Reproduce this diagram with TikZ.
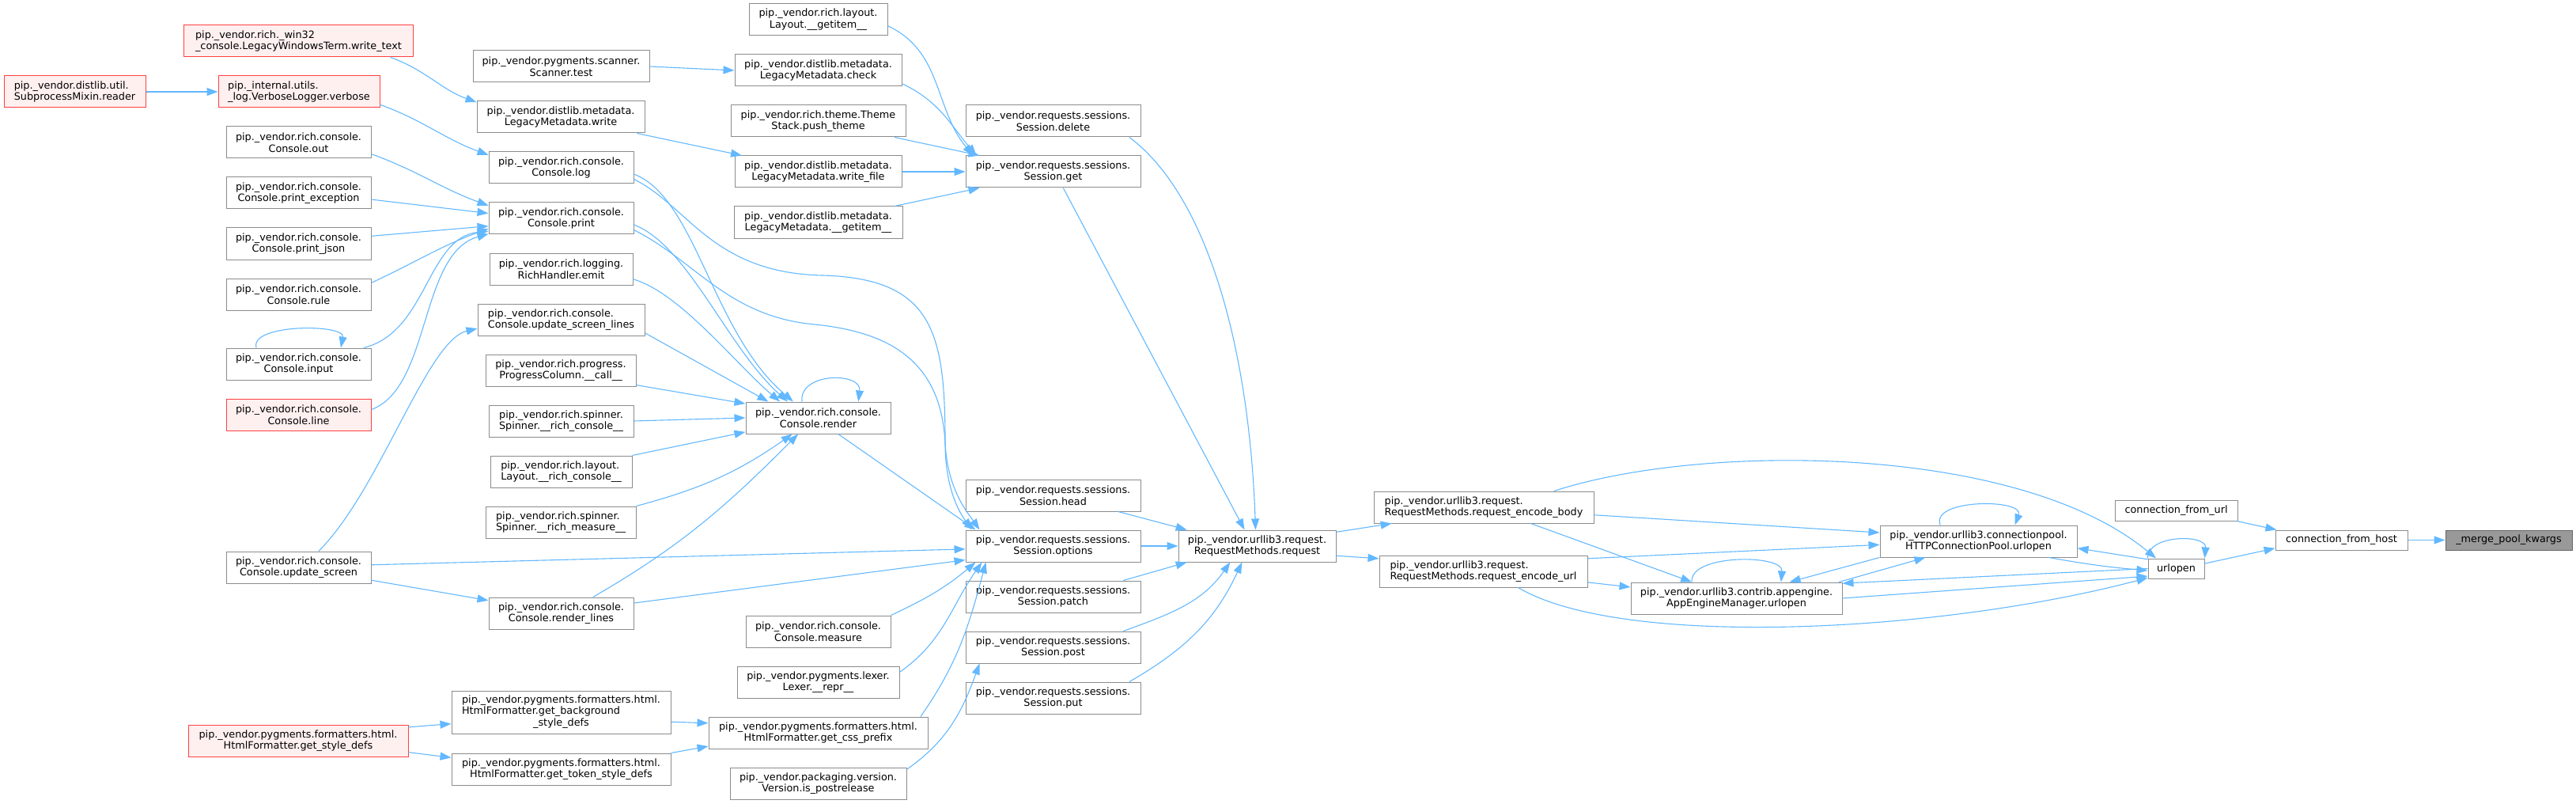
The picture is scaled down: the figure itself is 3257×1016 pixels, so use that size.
\documentclass[tikz,border=0pt]{standalone}
\usepackage{fontspec}
\usepackage{tikz}
\usetikzlibrary{arrows.meta}
\newfontfamily\dvsans{DejaVu Sans}
\newcommand\boxfont{\dvsans\fontsize{12.8pt}{14.7pt}\selectfont}
\definecolor{edgeblue}{HTML}{63B8FF}
\definecolor{boxline}{HTML}{8C8C8C}
\definecolor{redline}{HTML}{FF4040}
\definecolor{redfill}{HTML}{FFF0F0}
\definecolor{focusfill}{HTML}{999999}
\definecolor{focusline}{HTML}{666666}
\begin{document}
\begin{tikzpicture}[x=1pt,y=-1pt,
	box/.style={rectangle, draw=boxline, fill=white, line width=1pt, minimum height=40pt, inner sep=0pt, font=\boxfont, align=center},
	redbox/.style={box, draw=redline, fill=redfill},
	focusbox/.style={box, draw=focusline, fill=focusfill},
	lft/.style={align=left},
	edge/.style={draw=edgeblue, line width=1.1pt, -{Triangle[length=14pt,width=10pt]}}]
	\useasboundingbox (0,0) rectangle (3257,1016);
	\node[redbox, lft, minimum width=179pt] (reader) at (94.5,116) {pip.\_vendor.distlib.util.\\SubprocessMixin.reader};
	\node[redbox, lft, minimum width=290pt] (wtext) at (377.5,52) {pip.\_vendor.rich.\_win32\\\_console.LegacyWindowsTerm.write\_text};
	\node[redbox, lft, minimum width=204pt] (verbose) at (378,116) {pip.\_internal.utils.\\\_log.VerboseLogger.verbose};
	\node[box, minimum width=183pt] (cout) at (377.5,180) {pip.\_vendor.rich.console.\\Console.out};
	\node[box, minimum width=183pt] (cpexc) at (377.5,244) {pip.\_vendor.rich.console.\\Console.print\_exception};
	\node[box, minimum width=183pt] (cpjson) at (377.5,308) {pip.\_vendor.rich.console.\\Console.print\_json};
	\node[box, minimum width=183pt] (crule) at (377.5,372) {pip.\_vendor.rich.console.\\Console.rule};
	\node[box, minimum width=183pt] (cinput) at (377.5,460) {pip.\_vendor.rich.console.\\Console.input};
	\node[redbox, minimum width=183pt] (cline) at (377.5,524) {pip.\_vendor.rich.console.\\Console.line};
	\node[box, minimum width=183pt] (cupd) at (377.5,717) {pip.\_vendor.rich.console.\\Console.update\_screen};
	\node[redbox, minimum width=278pt] (hstyle) at (377,936) {pip.\_vendor.pygments.formatters.html.\\HtmlFormatter.get\_style\_defs};

	\node[box, minimum width=223pt] (scantest) at (709.5,84) {pip.\_vendor.pygments.scanner.\\Scanner.test};
	\node[box, minimum width=212pt] (lmwrite) at (709,148) {pip.\_vendor.distlib.metadata.\\LegacyMetadata.write};
	\node[box, minimum width=183pt] (clog) at (709.5,212) {pip.\_vendor.rich.console.\\Console.log};
	\node[box, minimum width=183pt] (cprint) at (709.5,276) {pip.\_vendor.rich.console.\\Console.print};
	\node[box, minimum width=181pt] (remit) at (709.5,340) {pip.\_vendor.rich.logging.\\RichHandler.emit};
	\node[box, lft, minimum width=211pt] (cusl) at (709.5,404) {pip.\_vendor.rich.console.\\Console.update\_screen\_lines};
	\node[box, minimum width=190pt] (pcall) at (709,468) {pip.\_vendor.rich.progress.\\ProgressColumn.\_\_call\_\_};
	\node[box, minimum width=183pt] (spcon) at (709.5,532) {pip.\_vendor.rich.spinner.\\Spinner.\_\_rich\_console\_\_};
	\node[box, lft, minimum width=179pt] (lycon) at (709.5,596) {pip.\_vendor.rich.layout.\\Layout.\_\_rich\_console\_\_};
	\node[box, lft, minimum width=190pt] (spmeas) at (709,660) {pip.\_vendor.rich.spinner.\\Spinner.\_\_rich\_measure\_\_};
	\node[box, minimum width=183pt] (crlines) at (709.5,775) {pip.\_vendor.rich.console.\\Console.render\_lines};
	\node[box, minimum width=277pt, minimum height=54pt] (hbg) at (709.5,900) {\begin{tabular}{@{}l@{}}pip.\_vendor.pygments.formatters.html.\\HtmlFormatter.get\_background\\\multicolumn{1}{@{}c@{}}{\_style\_defs}\end{tabular}};
	\node[box, minimum width=277pt] (htok) at (709.5,972) {pip.\_vendor.pygments.formatters.html.\\HtmlFormatter.get\_token\_style\_defs};

	\node[box, minimum width=175pt] (lyget) at (1034.5,25) {pip.\_vendor.rich.layout.\\Layout.\_\_getitem\_\_};
	\node[box, minimum width=211pt] (lmcheck) at (1034.5,89) {pip.\_vendor.distlib.metadata.\\LegacyMetadata.check};
	\node[box, minimum width=221pt] (theme) at (1034.5,153) {pip.\_vendor.rich.theme.Theme\\Stack.push\_theme};
	\node[box, minimum width=211pt] (lmwfile) at (1034.5,217) {pip.\_vendor.distlib.metadata.\\LegacyMetadata.write\_file};
	\node[box, minimum width=213pt] (lmget) at (1034.5,281) {pip.\_vendor.distlib.metadata.\\LegacyMetadata.\_\_getitem\_\_};
	\node[box, minimum width=183pt] (crender) at (1034.5,528) {pip.\_vendor.rich.console.\\Console.render};
	\node[box, minimum width=183pt] (cmeas) at (1034.5,798) {pip.\_vendor.rich.console.\\Console.measure};
	\node[box, minimum width=205pt] (lexrepr) at (1034.5,862) {pip.\_vendor.pygments.lexer.\\Lexer.\_\_repr\_\_};
	\node[box, minimum width=277pt] (hcss) at (1034.5,926) {pip.\_vendor.pygments.formatters.html.\\HtmlFormatter.get\_css\_prefix};
	\node[box, minimum width=223pt] (postrel) at (1034.5,990) {pip.\_vendor.packaging.version.\\Version.is\_postrelease};

	\node[box, minimum width=221pt] (sdelete) at (1331.5,153) {pip.\_vendor.requests.sessions.\\Session.delete};
	\node[box, minimum width=221pt] (sget) at (1331.5,217) {pip.\_vendor.requests.sessions.\\Session.get};
	\node[box, minimum width=221pt] (shead) at (1331.5,626) {pip.\_vendor.requests.sessions.\\Session.head};
	\node[box, minimum width=221pt] (soptions) at (1331.5,690) {pip.\_vendor.requests.sessions.\\Session.options};
	\node[box, minimum width=221pt] (spatch) at (1331.5,754) {pip.\_vendor.requests.sessions.\\Session.patch};
	\node[box, minimum width=221pt] (spost) at (1331.5,818) {pip.\_vendor.requests.sessions.\\Session.post};
	\node[box, minimum width=221pt] (sput) at (1331.5,882) {pip.\_vendor.requests.sessions.\\Session.put};

	\node[box, minimum width=199pt] (reqm) at (1589.5,690) {pip.\_vendor.urllib3.request.\\RequestMethods.request};
	\node[box, lft, minimum width=278pt] (reqbody) at (1876,641) {pip.\_vendor.urllib3.request.\\RequestMethods.request\_encode\_body};
	\node[box, lft, minimum width=263pt] (requrl) at (1875.5,722) {pip.\_vendor.urllib3.request.\\RequestMethods.request\_encode\_url};
	\node[box, minimum width=267pt] (appeng) at (2195.5,756) {pip.\_vendor.urllib3.contrib.appengine.\\AppEngineManager.urlopen};
	\node[box, minimum width=249pt] (hcpool) at (2501.5,684) {pip.\_vendor.urllib3.connectionpool.\\HTTPConnectionPool.urlopen};
	\node[box, minimum width=71pt, minimum height=25pt] (urlopen) at (2751.5,718.5) {urlopen};
	\node[box, minimum width=155pt, minimum height=26pt] (cfurl) at (2751.5,645) {connection\_from\_url};
	\node[box, minimum width=167pt, minimum height=25pt] (cfhost) at (2960.5,682.5) {connection\_from\_host};
	\node[focusbox, minimum width=160pt, minimum height=25pt] (merge) at (3172,682.5) {\_merge\_pool\_kwargs};

	\draw[edge] (reader.east) -- (verbose.west);
	\draw[edge] (wtext.-10) to[out=-20,in=160] (lmwrite.170);
	\draw[edge] (verbose.-9) to[out=-20,in=160] (clog.170);
	\draw[edge] (scantest.east) -- (lmcheck.west);
	\draw[edge] (lmwrite.-12) -- (lmwfile.168);
	\draw[edge] (cout.-9) to[out=-20,in=160] (cprint.170);
	\draw[edge] (cpexc.-5) -- (cprint.176);
	\draw[edge] (cpjson.6) -- (cprint.-174);
	\draw[edge] (crule.9) to[out=25,in=200] (cprint.-172);
	\draw[edge] (cinput.14) .. controls (540,420) and (540,300) .. (cprint.-170);
	\draw[edge] (cinput.159.5) .. controls (315,409) and (437,409) .. (cinput.21.6);
	\draw[edge] (cline.4) .. controls (545,490) and (530,320) .. (cprint.-168);
	\draw[edge] (cupd.39) .. controls (480,620) and (540,430) .. (cusl.-174);
	\draw[edge] (cupd.-10) -- (crlines.170);
	\draw[edge] (cupd.2) -- (soptions.-178);

	\draw[edge] (clog.-5) .. controls (880,250) and (900,420) .. (crender.147);
	\draw[edge] (cprint.-5) .. controls (870,310) and (920,440) .. (crender.152);
	\draw[edge] (remit.-8) .. controls (860,370) and (930,460) .. (crender.157);
	\draw[edge] (cusl.-9) -- (crender.162);
	\draw[edge] (crender.135) .. controls (1010,470) and (1090,470) .. (crender.22);
	\draw[edge] (pcall.-11) -- (crender.169);
	\draw[edge] (spcon.east) -- (crender.west);
	\draw[edge] (lycon.north east) -- (crender.-169);
	\draw[edge] (spmeas.north east) to[out=15,in=-145] (crender.-148);
	\draw[edge] (crlines.27) to[out=30,in=-135] (crender.-141);
	\draw[edge] (crlines.8) -- (soptions.-171);

	\draw[edge] (clog.-9) .. controls (870,260) and (900,345) .. (1040,348) .. controls (1180,352) and (1195,420) .. (1195,560) .. controls (1195,620) and (1215,650) .. ([xshift=8pt]soptions.north west);
	\draw[edge] (cprint.-9) .. controls (880,330) and (920,400) .. (1030,410) .. controls (1130,420) and (1190,460) .. (1195,560) .. controls (1198,620) and (1225,650) .. ([xshift=18pt]soptions.north west);
	\draw[edge] (crender.-39) -- ([xshift=13pt]soptions.north west);
	\draw[edge] (cmeas.north east) to[out=25,in=-140] ([xshift=13pt]soptions.south west);
	\draw[edge] (lexrepr.7) to[out=35,in=-125] ([xshift=21pt]soptions.south west);
	\draw[edge] (hcss.9) to[out=55,in=-105] ([xshift=26pt]soptions.south west);
	\draw[edge] (postrel.9) to[out=35,in=-110] ([xshift=18pt]spost.south west);
	\draw[edge] (hstyle.7) -- (hbg.-174);
	\draw[edge] (hstyle.-6) -- (htok.174);
	\draw[edge] (hbg.-5) -- (hcss.175);
	\draw[edge] (htok.north east) -- (hcss.-173);

	\draw[edge] (lyget.-5) to[out=-25,in=130] ([xshift=10pt]sget.north west);
	\draw[edge] (lmcheck.-9) to[out=-25,in=130] ([xshift=14pt]sget.north west);
	\draw[edge] (theme.-12) -- ([xshift=18pt]sget.north west);
	\draw[edge] (lmwfile.east) -- (sget.west);
	\draw[edge] (lmget.12) -- ([xshift=18pt]sget.south west);

	\draw[edge] (sdelete.-12) .. controls (1530,250) and (1580,450) .. ([xshift=-2pt]reqm.north);
	\draw[edge] (sget.-58) -- (reqm.128);
	\draw[edge] (shead.-14) -- (reqm.167);
	\draw[edge] (soptions.east) -- (reqm.west);
	\draw[edge] (spatch.13.5) -- (reqm.-167);
	\draw[edge] (spost.13.5) to[out=20,in=-125] (reqm.-149);
	\draw[edge] (sput.12.7) to[out=30,in=-115] (reqm.-133);

	\draw[edge] (reqm.10) -- (reqbody.-170);
	\draw[edge] (reqm.-7) -- (requrl.173);
	\draw[edge] (reqbody.-4) -- (hcpool.175);
	\draw[edge] (reqbody.-19) -- (appeng.160);
	\draw[edge] (reqbody.13) .. controls (2150,560) and (2550,560) .. (urlopen.153);
	\draw[edge] (requrl.7) -- (hcpool.-178);
	\draw[edge] (requrl.-6) -- (appeng.174);
	\draw[edge] (requrl.-25) .. controls (2050,820) and (2450,800) .. (urlopen.-162);
	\draw[edge] (appeng.160.5) .. controls (2135,700) and (2255,700) .. (appeng.20.5);
	\draw[edge] (hcpool.south west) -- (appeng.17.5);
	\draw[edge] (appeng.9) -- (hcpool.-163);
	\draw[edge] (urlopen.west) -- (appeng.8);
	\draw[edge] (appeng.east) -- (urlopen.-165);
	\draw[edge] (hcpool.-13) to[out=-10,in=175] (urlopen.-176);
	\draw[edge] (urlopen.162) -- (hcpool.-4);
	\draw[edge] (hcpool.157) .. controls (2440,630) and (2560,630) .. (hcpool.24);
	\draw[edge] (urlopen.north west) .. controls (2715,675) and (2790,675) .. (urlopen.north east);
	\draw[edge] (urlopen.10) -- (cfhost.-173);
	\draw[edge] (cfurl.-10) -- (cfhost.171);
	\draw[edge] (cfhost.east) -- (merge.west);
\end{tikzpicture}
\end{document}
